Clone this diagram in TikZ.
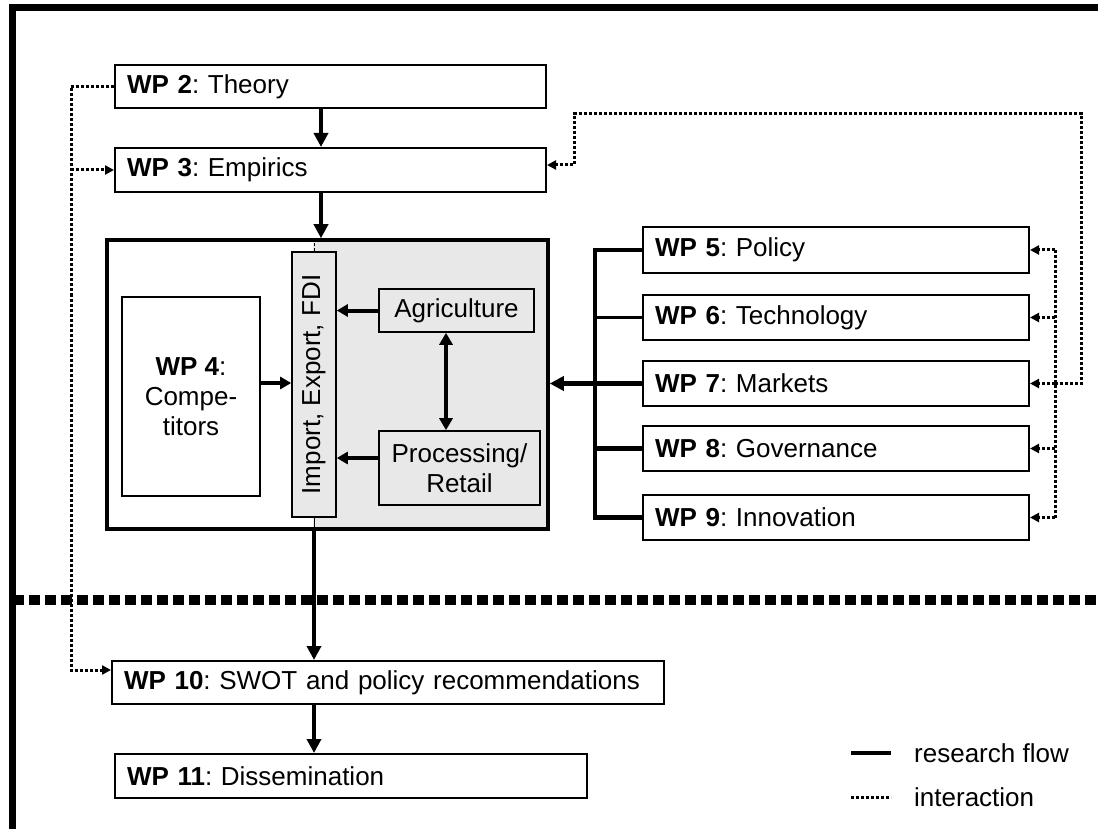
\documentclass[tikz,border=0pt]{standalone}
\usepackage{fontspec}
\setmainfont{Liberation Sans}
\usepackage{graphicx}
\usetikzlibrary{arrows.meta}
\definecolor{boxgray}{HTML}{E8E8E8}
\frenchspacing
\begin{document}
\begin{tikzpicture}[x=1pt,y=-1pt,
  txt/.style={font=\fontsize{26}{30}\selectfont},
  wpbox/.style={txt, draw, line width=2pt, fill=white, inner xsep=12pt, inner ysep=0pt, align=left},
  subbox/.style={txt, draw, line width=1.6pt, fill=boxgray, inner sep=0pt, align=center},
  flow/.style={line width=4.5pt, -{Triangle[length=14pt,width=14pt]}},
  flowin/.style={line width=4pt, -{Triangle[length=11pt,width=12pt]}},
  flowline/.style={line width=4.5pt},
  dotline/.style={line width=3pt, dash pattern=on 3pt off 2pt},
  dotarrow/.style={dotline, -{Triangle[length=9pt,width=9pt]}}
]
\useasboundingbox (0,0) rectangle (1098,829);
% frame
\draw[line width=7pt, line join=miter] (12.5,829) -- (12.5,7.5) -- (1098,7.5);
% gray region of the system box
\fill[boxgray] (313,240) rectangle (548,529);
% nodes
\node[wpbox, text width=407pt, minimum height=43pt] (wp2) at (330.5,86.5) {\textbf{WP 2}: Theory};
\node[wpbox, text width=407pt, minimum height=44pt] (wp3) at (330.5,170) {\textbf{WP 3}: Empirics};
\node[draw, line width=3.5pt, minimum width=441pt, minimum height=289pt, inner sep=0pt] (sys) at (327.5,384.5) {};
\node[subbox, fill=white, minimum width=138pt, minimum height=199pt] (wp4) at (191,396.5) {\textbf{WP 4}:\\Compe-\\titors};
\node[subbox, minimum width=44pt, minimum height=265pt] (trade) at (314,384.5) {\rotatebox{90}{Import, Export, FDI}};
\node[subbox, minimum width=155pt, minimum height=43pt] (agri) at (456.5,310.5) {Agriculture};
\node[subbox, minimum width=161pt, minimum height=74pt] (proc) at (459.5,468) {Processing/\\Retail};
\node[wpbox, text width=362pt, minimum height=46pt] (wp5) at (836,250) {\textbf{WP 5}: Policy};
\node[wpbox, text width=362pt, minimum height=45pt] (wp6) at (836,317.5) {\textbf{WP 6}: Technology};
\node[wpbox, text width=362pt, minimum height=45pt] (wp7) at (836,383.5) {\textbf{WP 7}: Markets};
\node[wpbox, text width=362pt, minimum height=45pt] (wp8) at (836,448.5) {\textbf{WP 8}: Governance};
\node[wpbox, text width=362pt, minimum height=45pt] (wp9) at (836,517.5) {\textbf{WP 9}: Innovation};
\node[wpbox, text width=528pt, minimum height=43pt] (wp10) at (388,682.5) {\textbf{WP 10}: SWOT and policy recommendations};
\node[wpbox, text width=448pt, minimum height=44pt] (wp11) at (351,776) {\textbf{WP 11}: Dissemination};
% helper coordinates
\coordinate (ax) at (321,0);
\coordinate (wy) at (0,383);
\coordinate (py) at (0,458);
\coordinate (dx) at (446,0);
\coordinate (barx) at (595,0);
\coordinate (rx) at (1055,0);
\coordinate (rx2) at (1081,0);
\coordinate (topy) at (0,114);
\coordinate (lx) at (574,0);
\coordinate (a3y) at (0,165);
\coordinate (lx0) at (71,0);
\coordinate (a10y) at (0,670);
% research flow
\draw[flow] (wp2.south -| ax) -- (wp3.north -| ax);
\draw[flow] (wp3.south -| ax) -- (sys.north -| ax);
\draw[line width=1pt, dash pattern=on 3pt off 2pt] (sys.north -| trade) -- (trade.north);
\draw[line width=1pt] (trade.south) -- (sys.south -| trade);
\draw[flow] (sys.south -| trade) -- (wp10.north -| trade);
\draw[flow] (wp10.south -| trade) -- (wp11.north -| trade);
\draw[flowin] (wp4.east |- wy) -- (trade.west |- wy);
\draw[flowin] (agri.west) -- (agri.west -| trade.east);
\draw[flowin] (proc.west |- py) -- (trade.east |- py);
\draw[line width=4.5pt, {Triangle[length=12pt,width=13pt]}-{Triangle[length=12pt,width=13pt]}] (agri.south -| dx) -- (proc.north -| dx);
% tree to WP 5-9
\draw[flowline, line join=miter] (wp5.west) -- (wp5.west -| barx) -- (wp9.west -| barx) -- (wp9.west);
\draw[line width=3.5pt] (wp6.west -| barx) -- (wp6.west);
\draw[flowline] (wp7.west -| barx) -- (wp7.west);
\draw[flowline] (wp8.west -| barx) -- (wp8.west);
\draw[flow] (wp7.west -| barx) -- (sys.east |- wp7.west);
% interaction right
\draw[dotline] (wp5.east -| rx) -- (wp9.east -| rx);
\draw[dotarrow] (wp5.east -| rx) -- (wp5.east);
\draw[dotarrow] (wp6.east -| rx) -- (wp6.east);
\draw[dotarrow] (wp7.east -| rx) -- (wp7.east);
\draw[dotarrow] (wp8.east -| rx) -- (wp8.east);
\draw[dotarrow] (wp9.east -| rx) -- (wp9.east);
\draw[dotarrow] (wp7.east -| rx) -- (wp7.east -| rx2) -- (rx2 |- topy) -- (lx |- topy) -- (lx |- a3y) -- (wp3.east |- a3y);
% interaction left
\draw[dotarrow] (wp2.west) -- (wp2.west -| lx0) -- (lx0 |- a10y) -- (wp10.west |- a10y);
\draw[dotarrow] (wp3.west -| lx0) -- (wp3.west);
% separator
\draw[line width=10pt, dash pattern=on 11pt off 5pt] (13,600) -- (1098,600);
% legend
\coordinate (l1a) at (851,753);
\coordinate (l1b) at (891,753);
\coordinate (l2a) at (851,797);
\coordinate (l2b) at (891,797);
\draw[flowline] (l1a) -- (l1b);
\draw[dotline] (l2a) -- (l2b);
\node[txt, anchor=west, inner sep=0pt] (lg1) at (914,753) {research flow};
\node[txt, anchor=west, inner sep=0pt] (lg2) at (914,797) {interaction};
\end{tikzpicture}
\end{document}
